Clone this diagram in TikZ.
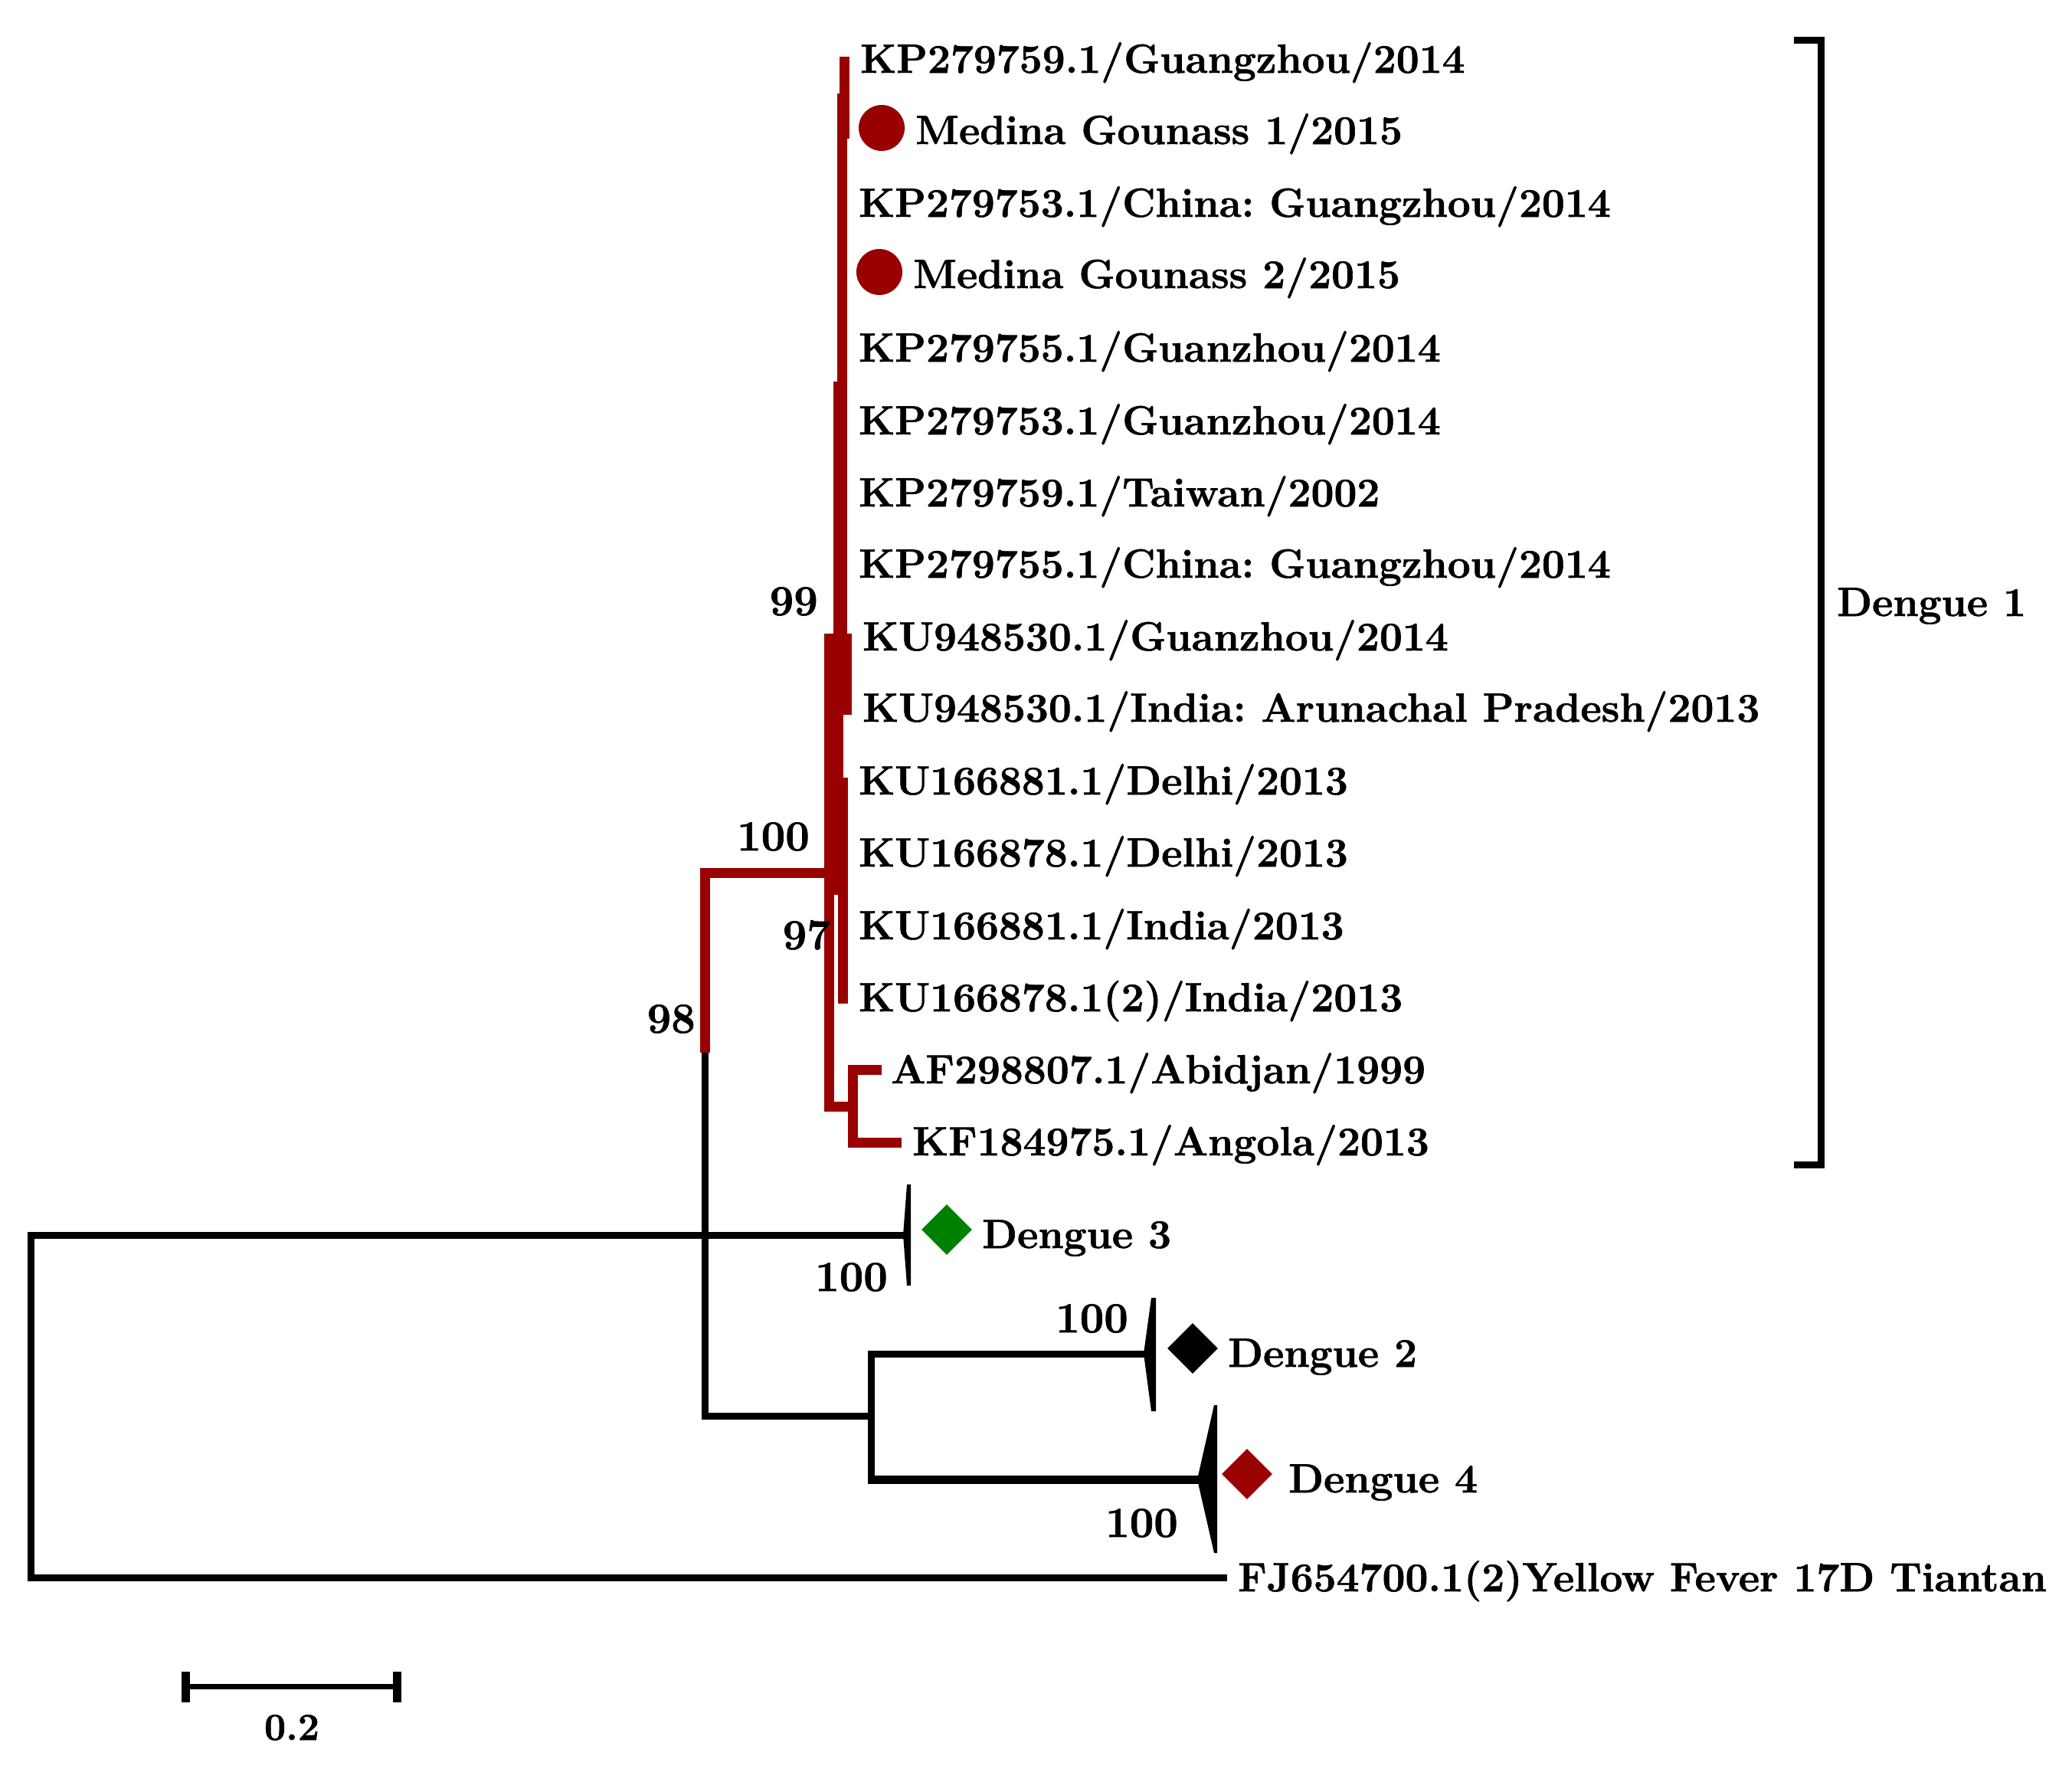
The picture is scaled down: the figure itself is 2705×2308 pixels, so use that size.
\documentclass[tikz,border=0pt]{standalone}
\usepackage{fontspec}
\setmainfont{Latin Modern Roman}[BoldFeatures={FakeBold=1.2}]
\usetikzlibrary{shapes.geometric}
\definecolor{dred}{RGB}{153,0,0}
\definecolor{dgreen}{RGB}{0,128,0}
\frenchspacing
\begin{document}
\begin{tikzpicture}[x=1pt,y=-1pt,
  leaf/.style={anchor=base west,inner sep=0pt,font=\fontsize{53.2}{60}\selectfont\bfseries},
  boot/.style={anchor=base east,inner sep=0pt,font=\fontsize{56}{60}\selectfont\bfseries},
  br/.style={line width=9pt,line join=miter},
  rbr/.style={dred,line width=13pt,line join=miter},
  dia/.style={diamond,aspect=1,minimum width=66pt,minimum height=66pt,inner sep=0pt},
  dot/.style={circle,fill=dred,minimum size=60pt,inner sep=0pt}]
\useasboundingbox (0,0) rectangle (2705,2308);
% ---- named tree coordinates
\coordinate (root) at (40,1612);
\coordinate (rootb) at (40,2059);
\coordinate (n98) at (920.5,1139);
\coordinate (n98b) at (920.5,1848);
\coordinate (n24) at (1137,1848);
\coordinate (d3tip) at (1182,1612);
\coordinate (d2tip) at (1495,1767);
\coordinate (d4tip) at (1565,1931);
\coordinate (yftip) at (1602,2059);
\coordinate (c100) at (1076,1139);
% ---- black branches
\draw[br] (d3tip) -- (root) -- (rootb) -- (yftip);
\draw[br] (920.5,1372) -- (n98b) -- (n24);
\draw[br] (d2tip) -- (1137,1767) -- (1137,1936);
\draw[line width=11pt] (1132.5,1931) -- (d4tip);
% ---- red branches
\draw[rbr] (c100) -- (n98) -- (920.5,1374);
\fill[dred] (1096,74) rectangle (1109,181);
\fill[dred] (1093,122) rectangle (1106,498);
\fill[dred] (1088,498) rectangle (1106,827);
\fill[dred] (1076,827) rectangle (1112,933);
\fill[dred] (1076,933) rectangle (1101,1015);
\fill[dred] (1076,1015) rectangle (1107,1168);
\fill[dred] (1094,1168) rectangle (1107,1310);
\fill[dred] (1076,1168) rectangle (1089,1451);
\fill[dred] (1076,1438) rectangle (1108,1451);
\draw[rbr] (1151,1396.5) -- (1113.5,1396.5) -- (1113.5,1491) -- (1177,1491);
% ---- collapsed clade wedges
\fill (1184,1546) -- (1189,1546) -- (1189,1678) -- (1184,1678) -- (1179,1612) -- cycle;
\fill (1503,1694) -- (1509,1694) -- (1509,1842) -- (1503,1842) -- (1493,1767) -- cycle;
\fill (1585,1834) -- (1589,1834) -- (1589,2027) -- (1585,2027) -- (1563,1931) -- cycle;
% ---- markers
\node[dot] (m1) at (1151,167) {};
\node[dot] (m2) at (1148,355) {};
\node[dia,fill=dgreen] (g3) at (1236,1605) {};
\node[dia,fill=black] (g2) at (1557,1760) {};
\node[dia,fill=dred] (g4) at (1628,1924) {};
% ---- leaf labels
\node[leaf] (l1) at (1123,95) {KP279759.1/Guangzhou/2014};
\node[leaf] (l2) at (1195,188) {Medina Gounass 1/2015};
\node[leaf] (l3) at (1121,283) {KP279753.1/China: Guangzhou/2014};
\node[leaf] (l4) at (1192,376) {Medina Gounass 2/2015};
\node[leaf] (l5) at (1121,472) {KP279755.1/Guanzhou/2014};
\node[leaf] (l6) at (1121,567) {KP279753.1/Guanzhou/2014};
\node[leaf] (l7) at (1121,661) {KP279759.1/Taiwan/2002};
\node[leaf] (l8) at (1121,754) {KP279755.1/China: Guangzhou/2014};
\node[leaf] (l9) at (1126,849) {KU948530.1/Guanzhou/2014};
\node[leaf] (l10) at (1126,942) {KU948530.1/India: Arunachal Pradesh/2013};
\node[leaf] (l11) at (1121,1037) {KU166881.1/Delhi/2013};
\node[leaf] (l12) at (1121,1131) {KU166878.1/Delhi/2013};
\node[leaf] (l13) at (1121,1226) {KU166881.1/India/2013};
\node[leaf] (l14) at (1121,1320) {KU166878.1(2)/India/2013};
\node[leaf] (l15) at (1163,1414) {AF298807.1/Abidjan/1999};
\node[leaf] (l16) at (1191,1508) {KF184975.1/Angola/2013};
\node[leaf] (t3) at (1282,1629) {Dengue 3};
\node[leaf] (t2) at (1603,1784) {Dengue 2};
\node[leaf] (t4) at (1682,1948) {Dengue 4};
\node[leaf] (t1) at (2398,804) {Dengue 1};
\node[leaf] (yf) at (1616,2077) {FJ654700.1(2)Yellow Fever 17D Tiantan};
% ---- bootstrap values
\node[boot] (b99) at (1068,803) {99};
\node[boot] (b100a) at (1057,1110) {100};
\node[boot] (b97) at (1085,1239) {97};
\node[boot] (b98) at (908,1348) {98};
\node[boot] (b100b) at (1159,1685) {100};
\node[boot] (b100c) at (1473,1739) {100};
\node[boot] (b100d) at (1538,2006) {100};
% ---- Dengue 1 bracket
\coordinate (bt) at (2342,52);
\coordinate (bb) at (2342,1520);
\draw[line width=9pt,line join=miter] (bt) -- (2377,52) -- (2377,1520) -- (bb);
% ---- scale bar
\coordinate (sa) at (242,2201);
\coordinate (sb) at (518,2201);
\draw[line width=7pt] (sa) -- (sb);
\draw[line width=11pt] (242,2182) -- (242,2222) (518,2182) -- (518,2222);
\node[anchor=base,inner sep=0pt,font=\fontsize{50}{60}\selectfont\bfseries] (scl) at (381,2271) {0.2};
\end{tikzpicture}
\end{document}
